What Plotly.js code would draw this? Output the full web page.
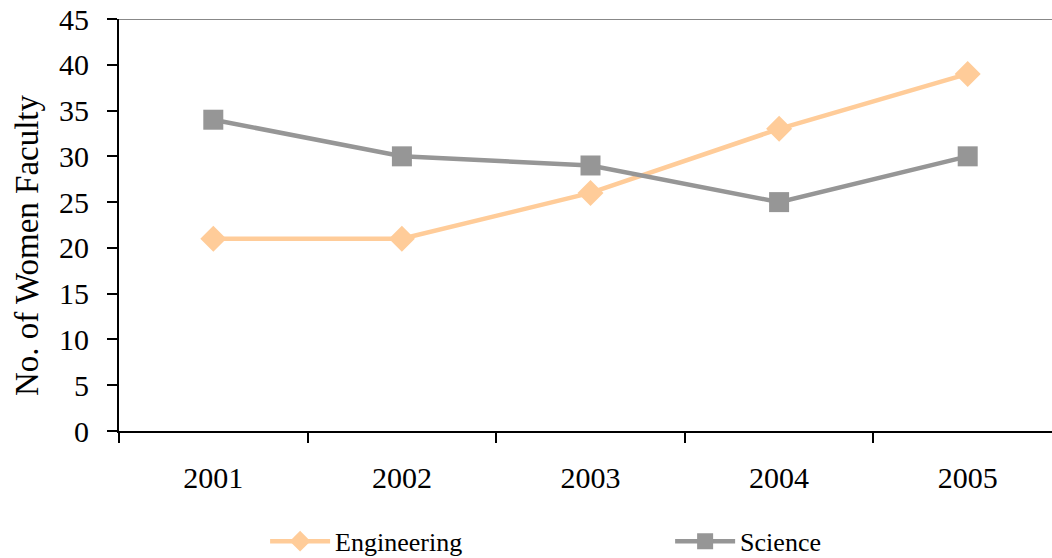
<!DOCTYPE html>
<html>
<head>
<meta charset="utf-8">
<script src="https://cdn.plot.ly/plotly-3.0.1.min.js"></script>
<style>html,body{margin:0;padding:0;background:#fff;}#chart{width:1052px;height:558px;}</style>
</head>
<body>
<div id="chart"></div>
<script>
const years = ["2001", "2002", "2003", "2004", "2005"];
const engineering = [21, 21, 26, 33, 39];
const science = [34, 30, 29, 25, 30];
const yTicks = [0, 5, 10, 15, 20, 25, 30, 35, 40, 45];
const yTitle = "No. of Women Faculty";

const font = "'Liberation Serif', 'Times New Roman', serif";

const traces = [
  {
    x: years, y: engineering, name: "Engineering", type: "scatter", mode: "lines+markers",
    line: {color: "#FFCC99", width: 4.5},
    marker: {symbol: "diamond", size: 20, color: "#FFCC99"},
    legend: "legend"
  },
  {
    x: years, y: science, name: "Science", type: "scatter", mode: "lines+markers",
    line: {color: "#969696", width: 4.5},
    marker: {symbol: "square", size: 20, color: "#969696"},
    legend: "legend2"
  }
];

const legendBase = {
  orientation: "h", xref: "container", yref: "container",
  xanchor: "left", y: 0.03, yanchor: "middle",
  font: {family: font, size: 26, color: "#000"},
  itemwidth: 60, bgcolor: "rgba(0,0,0,0)"
};

const layout = {
  width: 1052, height: 558,
  margin: {l: 119, r: 0, t: 19, b: 127},
  paper_bgcolor: "#fff", plot_bgcolor: "#fff",
  font: {family: font, color: "#000", size: 30},
  showlegend: true,
  legend: Object.assign({}, legendBase, {x: 0.252}),
  legend2: Object.assign({}, legendBase, {x: 0.637}),
  xaxis: {
    type: "category", range: [-0.5, 4.447],
    showgrid: false, zeroline: false,
    showline: true, linecolor: "#000", linewidth: 2,
    ticks: "outside", tickson: "boundaries", ticklen: 10, tickwidth: 2, tickcolor: "#000",
    ticklabelstandoff: 19,
    tickfont: {family: font, size: 30, color: "#000"}
  },
  yaxis: {
    range: [0, 45], tickvals: yTicks,
    showgrid: false, zeroline: false,
    showline: true, linecolor: "#000", linewidth: 2,
    ticks: "outside", ticklen: 10, tickwidth: 2, tickcolor: "#000",
    ticklabelstandoff: 12,
    tickfont: {family: font, size: 30, color: "#000"}
  },
  annotations: [
    {text: yTitle, textangle: -90, showarrow: false,
     xref: "paper", yref: "paper", x: (27 - 119) / 933, y: (431 - 245) / 412,
     xanchor: "center", yanchor: "middle",
     font: {family: font, size: 33, color: "#000"}}
  ],
  shapes: [
    {type: "line", xref: "paper", yref: "y", x0: 0, x1: 1, y0: 45, y1: 45,
     line: {color: "#888888", width: 2}}
  ]
};

Plotly.newPlot("chart", traces, layout, {displayModeBar: false, staticPlot: true});
</script>
</body>
</html>
